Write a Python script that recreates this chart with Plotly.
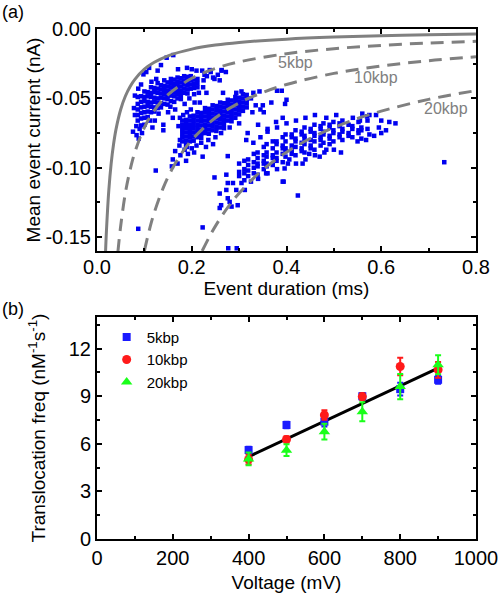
import plotly.graph_objects as go
from plotly.subplots import make_subplots

# ---------------- Panel (a): event scatter (duration ms, mean current nA) ----------------
# dense cores, read column by column (duration -> currents in that column)
dur_5kbp_core = [0.086, 0.093, 0.100, 0.107, 0.114, 0.121, 0.128, 0.135, 0.142, 0.149,
                 0.156, 0.163, 0.170, 0.177, 0.184, 0.191, 0.198, 0.205, 0.212]
cur_5kbp_core = [
    [-0.049, -0.054, -0.058, -0.062, -0.066],
    [-0.0485, -0.0525, -0.0565, -0.0605, -0.0645, -0.0695],
    [-0.045, -0.049, -0.052, -0.056, -0.060, -0.064],
    [-0.0455, -0.0485, -0.0525, -0.0555, -0.0595, -0.0635],
    [-0.042, -0.046, -0.049, -0.053, -0.056, -0.060],
    [-0.0425, -0.0455, -0.0495, -0.0525, -0.0565, -0.0595],
    [-0.039, -0.043, -0.046, -0.050, -0.053, -0.057],
    [-0.0405, -0.0435, -0.0465, -0.0495, -0.0535, -0.0565],
    [-0.037, -0.041, -0.044, -0.047, -0.050, -0.054],
    [-0.0385, -0.0415, -0.0445, -0.0475, -0.0505, -0.0545],
    [-0.036, -0.039, -0.042, -0.045, -0.048, -0.052],
    [-0.0365, -0.0395, -0.0425, -0.0455, -0.0485, -0.0525],
    [-0.035, -0.038, -0.041, -0.044, -0.047, -0.050],
    [-0.0355, -0.0385, -0.0415, -0.0445, -0.0475, -0.0505],
    [-0.034, -0.037, -0.040, -0.043, -0.046],
    [-0.0345, -0.0375, -0.0405, -0.0435, -0.0465],
    [-0.034, -0.037, -0.040, -0.043],
    [-0.0365, -0.0395, -0.0425],
    [-0.036, -0.039, -0.042],
]
events_5kbp_sparse = [
    (0.147, -0.0207), (0.161, -0.0188), (0.171, -0.029), (0.110, -0.028), (0.098, -0.0327),
    (0.104, -0.031), (0.080, -0.048), (0.076, -0.074), (0.0835, -0.0765), (0.140, -0.069),
    (0.140, -0.073), (0.175, -0.064), (0.083, -0.070), (0.090, -0.072), (0.095, -0.075),
    (0.088, -0.079), (0.122, -0.066), (0.130, -0.061), (0.150, -0.060), (0.165, -0.058),
    (0.185, -0.054), (0.195, -0.050), (0.205, -0.047), (0.215, -0.046), (0.225, -0.037),
    (0.232, -0.034), (0.240, -0.031), (0.248, -0.036), (0.255, -0.033), (0.263, -0.030),
    (0.272, -0.031), (0.222, -0.030), (0.210, -0.030), (0.200, -0.029), (0.190, -0.028),
    (0.125, -0.036), (0.115, -0.038), (0.093, -0.040), (0.087, -0.043), (0.078, -0.057),
    (0.080, -0.062), (0.100, -0.069), (0.112, -0.066), (0.117, -0.071), (0.155, -0.056),
    (0.160, -0.064), (0.135, -0.026), (0.128, -0.030), (0.227, -0.033), (0.238, -0.0296),
    (0.245, -0.035), (0.263, -0.0296), (0.259, -0.037),
]

dur_10kbp_core = [0.180, 0.188, 0.196, 0.204, 0.212, 0.220, 0.228, 0.236, 0.244, 0.252,
                  0.260, 0.268, 0.276, 0.284, 0.292, 0.300, 0.308, 0.316]
cur_10kbp_core = [
    [-0.066, -0.069, -0.072, -0.075, -0.078, -0.081],
    [-0.0655, -0.0685, -0.0715, -0.0745, -0.0775, -0.0805, -0.0835],
    [-0.063, -0.066, -0.069, -0.072, -0.075, -0.078, -0.081],
    [-0.0625, -0.0655, -0.0685, -0.0715, -0.0745, -0.0775, -0.0805],
    [-0.060, -0.063, -0.066, -0.069, -0.072, -0.075, -0.078],
    [-0.0605, -0.0635, -0.0665, -0.0695, -0.0725, -0.0755, -0.0785],
    [-0.057, -0.060, -0.063, -0.066, -0.069, -0.072, -0.075],
    [-0.0575, -0.0605, -0.0635, -0.0665, -0.0695, -0.0725, -0.0755],
    [-0.055, -0.058, -0.061, -0.064, -0.067, -0.070, -0.073],
    [-0.0555, -0.0585, -0.0615, -0.0645, -0.0675, -0.0705, -0.0735],
    [-0.053, -0.056, -0.059, -0.062, -0.065, -0.068, -0.071],
    [-0.0535, -0.0565, -0.0595, -0.0625, -0.0655, -0.0685, -0.0715],
    [-0.051, -0.054, -0.057, -0.060, -0.063, -0.066],
    [-0.0515, -0.0545, -0.0575, -0.0605, -0.0635, -0.0665],
    [-0.049, -0.052, -0.055, -0.058, -0.061, -0.064],
    [-0.0495, -0.0525, -0.0555, -0.0585, -0.0615],
    [-0.047, -0.050, -0.053, -0.056, -0.059],
    [-0.0475, -0.0505, -0.0535, -0.0565],
]
events_10kbp_sparse = [
    (0.172, -0.070), (0.174, -0.084), (0.165, -0.088), (0.160, -0.094), (0.170, -0.097),
    (0.158, -0.099), (0.176, -0.091), (0.185, -0.087), (0.192, -0.090), (0.200, -0.086),
    (0.210, -0.084), (0.220, -0.082), (0.235, -0.080), (0.250, -0.078), (0.262, -0.075),
    (0.280, -0.071), (0.300, -0.068), (0.315, -0.080), (0.318, -0.075), (0.340, -0.069),
    (0.360, -0.072), (0.392, -0.064), (0.378, -0.067), (0.343, -0.045), (0.380, -0.0445),
    (0.390, -0.0445), (0.400, -0.051), (0.397, -0.054), (0.368, -0.053), (0.350, -0.055),
    (0.352, -0.060), (0.345, -0.058), (0.328, -0.060), (0.335, -0.055), (0.330, -0.046),
    (0.325, -0.050), (0.224, -0.042), (0.231, -0.046), (0.266, -0.046), (0.294, -0.046),
    (0.305, -0.045), (0.206, -0.053), (0.217, -0.053), (0.198, -0.058), (0.190, -0.060),
    (0.182, -0.062), (0.175, -0.080), (0.190, -0.085), (0.205, -0.089), (0.223, -0.092),
    (0.230, -0.085), (0.245, -0.083), (0.188, -0.095), (0.124, -0.102), (0.087, -0.144),
    (0.273, -0.105), (0.277, -0.158),
]

dur_20kbp_core = [0.300, 0.311, 0.319, 0.331, 0.339, 0.352, 0.358, 0.371, 0.379, 0.392,
                  0.398, 0.411, 0.419, 0.432, 0.438, 0.451, 0.459, 0.472, 0.478, 0.491,
                  0.499, 0.512, 0.518, 0.531, 0.539, 0.552, 0.558, 0.571]
cur_20kbp_core = [
    [-0.097, -0.103, -0.106],
    [-0.095, -0.101, -0.104, -0.109],
    [-0.094, -0.098, -0.102, -0.106],
    [-0.090, -0.096, -0.100, -0.104],
    [-0.089, -0.093, -0.097, -0.099, -0.105],
    [-0.085, -0.091, -0.095, -0.097, -0.101],
    [-0.083, -0.089, -0.092, -0.097, -0.099],
    [-0.081, -0.086, -0.091, -0.093, -0.098],
    [-0.081, -0.083, -0.089, -0.093, -0.095],
    [-0.078, -0.084, -0.086, -0.090, -0.096],
    [-0.076, -0.081, -0.086, -0.088, -0.092],
    [-0.076, -0.078, -0.084, -0.087, -0.090],
    [-0.073, -0.079, -0.081, -0.085, -0.091],
    [-0.074, -0.076, -0.082, -0.086, -0.088],
    [-0.071, -0.077, -0.079, -0.083, -0.089],
    [-0.072, -0.074, -0.080, -0.084, -0.086],
    [-0.069, -0.075, -0.077, -0.081, -0.087],
    [-0.070, -0.072, -0.078, -0.080, -0.084],
    [-0.068, -0.074, -0.076, -0.082],
    [-0.069, -0.071, -0.077, -0.079, -0.083],
    [-0.067, -0.073, -0.075, -0.081],
    [-0.068, -0.070, -0.076, -0.078],
    [-0.066, -0.072, -0.074, -0.080],
    [-0.069, -0.075, -0.077],
    [-0.070, -0.072, -0.078],
    [-0.067, -0.073, -0.075],
    [-0.071, -0.073, -0.079],
    [-0.066, -0.072],
]
events_20kbp_sparse = [
    (0.630, -0.068), (0.617, -0.067), (0.600, -0.075), (0.585, -0.077), (0.568, -0.080),
    (0.589, -0.062), (0.570, -0.063), (0.515, -0.089), (0.484, -0.064), (0.733, -0.096),
    (0.424, -0.120), (0.394, -0.110), (0.540, -0.064), (0.555, -0.066), (0.505, -0.062),
    (0.460, -0.062), (0.440, -0.064), (0.420, -0.066), (0.400, -0.068), (0.380, -0.071),
    (0.360, -0.074), (0.345, -0.078), (0.330, -0.082), (0.440, -0.094), (0.460, -0.091),
    (0.480, -0.089), (0.500, -0.087), (0.420, -0.097), (0.380, -0.101), (0.360, -0.104),
    (0.340, -0.108), (0.325, -0.110), (0.550, -0.081), (0.575, -0.076), (0.595, -0.071),
    (0.610, -0.073), (0.600, -0.066), (0.560, -0.061), (0.575, -0.062), (0.259, -0.1186),
    (0.273, -0.116), (0.276, -0.122), (0.280, -0.1246), (0.259, -0.129), (0.262, -0.127),
    (0.284, -0.128), (0.297, -0.127), (0.287, -0.111), (0.276, -0.111), (0.248, -0.107),
    (0.276, -0.0916), (0.223, -0.143), (0.295, -0.158), (0.294, -0.116), (0.312, -0.116),
    (0.305, -0.111), (0.392, -0.110), (0.357, -0.104), (0.396, -0.1005), (0.403, -0.097),
    (0.406, -0.094), (0.434, -0.097), (0.448, -0.090), (0.470, -0.092), (0.484, -0.087),
]

# constant-charge guide curves
curve_solid_dur = [0.018, 0.02, 0.025, 0.03, 0.035, 0.04, 0.05, 0.06, 0.07, 0.08, 0.1, 0.12,
                   0.15, 0.2, 0.25, 0.3, 0.4, 0.5, 0.6, 0.7, 0.8]
curve_solid_cur = [-0.161, -0.145, -0.116, -0.0967, -0.0829, -0.0725, -0.058, -0.0483, -0.0414,
                   -0.0363, -0.029, -0.0242, -0.0193, -0.0145, -0.0116, -0.0097, -0.0073,
                   -0.0058, -0.0048, -0.0041, -0.0036]
curve_5kbp_dur = [0.044, 0.05, 0.06, 0.07, 0.08, 0.1, 0.12, 0.15, 0.2, 0.25, 0.3, 0.4, 0.5, 0.6, 0.7, 0.8]
curve_5kbp_cur = [-0.161, -0.142, -0.118, -0.1014, -0.0888, -0.071, -0.0592, -0.0473, -0.0355,
                  -0.0284, -0.0237, -0.0178, -0.0142, -0.0118, -0.0101, -0.0089]
curve_10kbp_dur = [0.1, 0.11, 0.12, 0.14, 0.16, 0.18, 0.2, 0.25, 0.3, 0.35, 0.4, 0.5, 0.6, 0.7, 0.8]
curve_10kbp_cur = [-0.16, -0.1455, -0.1333, -0.1143, -0.1, -0.0889, -0.08, -0.064, -0.0533,
                   -0.0457, -0.04, -0.032, -0.0267, -0.0229, -0.02]
curve_20kbp_dur = [0.222, 0.24, 0.26, 0.28, 0.3, 0.35, 0.4, 0.45, 0.5, 0.55, 0.6, 0.7, 0.8]
curve_20kbp_cur = [-0.16, -0.148, -0.1365, -0.1268, -0.1183, -0.1014, -0.0888, -0.0789, -0.071,
                   -0.0645, -0.0592, -0.0507, -0.0444]
curve_labels = ["5kbp", "10kbp", "20kbp"]

# ---------------- Panel (b): translocation frequency ----------------
voltage = [400, 500, 600, 700, 800, 900]
freq_5kbp = [5.61, 7.19, 7.40, 9.00, 9.45, 10.04]
err_5kbp = [0.20, 0.20, 0.30, 0.20, 0.40, 0.25]
freq_10kbp = [5.02, 6.28, 7.82, 8.98, 10.88, 10.67]
err_10kbp = [0.30, 0.20, 0.30, 0.20, 0.55, 0.50]
freq_20kbp = [5.05, 5.60, 6.77, 8.03, 9.61, 10.99]
err_20kbp = [0.40, 0.37, 0.50, 0.60, 0.80, 0.60]
fit_voltage = [400, 900]
fit_freq = [5.19, 10.77]


def expand(durs, cols, sparse):
    xs, ys = [], []
    for t, col in zip(durs, cols):
        for c in col:
            xs.append(t)
            ys.append(c)
    for t, c in sparse:
        xs.append(t)
        ys.append(c)
    return xs, ys


FONT = "Liberation Sans, Arial, sans-serif"
BLUE = "#0000f0"
GRAY = "#808080"

fig = make_subplots(rows=2, cols=1, vertical_spacing=0.1294)

all_x, all_y = [], []
for d, c, s in [(dur_5kbp_core, cur_5kbp_core, events_5kbp_sparse),
                (dur_10kbp_core, cur_10kbp_core, events_10kbp_sparse),
                (dur_20kbp_core, cur_20kbp_core, events_20kbp_sparse)]:
    xs, ys = expand(d, c, s)
    all_x += xs
    all_y += ys

fig.add_trace(go.Scatter(x=all_x, y=all_y, mode="markers", showlegend=False,
                         marker=dict(symbol="square", size=4.5, color=BLUE, line=dict(width=0))),
              row=1, col=1)

fig.add_trace(go.Scatter(x=curve_solid_dur, y=curve_solid_cur, mode="lines", showlegend=False,
                         line=dict(color=GRAY, width=3, shape="spline")), row=1, col=1)
for xd, yd in [(curve_5kbp_dur, curve_5kbp_cur), (curve_10kbp_dur, curve_10kbp_cur),
               (curve_20kbp_dur, curve_20kbp_cur)]:
    fig.add_trace(go.Scatter(x=xd, y=yd, mode="lines", showlegend=False,
                             line=dict(color=GRAY, width=3, dash="13px,8px", shape="spline")),
                  row=1, col=1)

# panel b
fig.add_trace(go.Scatter(x=fit_voltage, y=fit_freq, mode="lines", showlegend=False,
                         line=dict(color="black", width=3)), row=2, col=1)
series = [("5kbp", freq_5kbp, err_5kbp, "#1a1aff", "square", 8),
          ("10kbp", freq_10kbp, err_10kbp, "#ff1a1a", "circle", 9),
          ("20kbp", freq_20kbp, err_20kbp, "#1aff1a", "triangle-up", 10)]
for name, f, e, col, sym, sz in series:
    fig.add_trace(go.Scatter(x=voltage, y=f, mode="markers", name=name,
                             marker=dict(symbol=sym, size=sz, color=col, line=dict(width=0)),
                             error_y=dict(type="data", array=e, color=col, thickness=2, width=3)),
                  row=2, col=1)

tickfont = dict(family=FONT, size=20, color="black")
titlefont = dict(family=FONT, size=19, color="black")
common = dict(showline=True, linecolor="black", linewidth=2, mirror="ticks", ticks="inside",
              ticklen=5, tickwidth=1.5, tickcolor="black", showgrid=False, zeroline=False,
              tickfont=tickfont, automargin=False, ticklabeloverflow="allow")

fig.update_xaxes(range=[0, 0.8], tickmode="array", tickvals=[0, 0.2, 0.4, 0.6, 0.8],
                 ticktext=["0.0", "0.2", "0.4", "0.6", "0.8"], ticklabelstandoff=-3,
                 minor=dict(tickmode="linear", tick0=0, dtick=0.1, ticks="inside", ticklen=3,
                            tickwidth=1.5, tickcolor="black"),
                 title=dict(text="Event duration (ms)", font=titlefont, standoff=0),
                 row=1, col=1, **common)
fig.update_yaxes(range=[-0.16, 0], tickmode="array", tickvals=[0, -0.05, -0.10, -0.15],
                 ticktext=["0.00", "-0.05", "-0.10", "-0.15"],
                 minor=dict(tickmode="linear", tick0=0, dtick=0.025, ticks="inside", ticklen=3,
                            tickwidth=1.5, tickcolor="black"),
                 title=dict(text="Mean event current (nA)", font=titlefont, standoff=0),
                 row=1, col=1, **common)
fig.update_xaxes(range=[0, 1000], tickmode="linear", tick0=0, dtick=200,
                 minor=dict(tickmode="linear", tick0=0, dtick=100, ticks="inside", ticklen=3,
                            tickwidth=1.5, tickcolor="black"),
                 title=dict(text="Voltage (mV)", font=titlefont, standoff=8),
                 row=2, col=1, **common)
fig.update_yaxes(range=[0, 14], tickmode="linear", tick0=0, dtick=3,
                 minor=dict(tickmode="linear", tick0=0, dtick=1.5, ticks="inside", ticklen=3,
                            tickwidth=1.5, tickcolor="black"),
                 title=dict(text="Translocation freq (nM<sup>-1</sup>s<sup>-1</sup>)",
                            font=titlefont, standoff=18),
                 row=2, col=1, **common)

annotations = [
    dict(x=0.419, y=-0.0245, xref="x", yref="y", text=curve_labels[0]),
    dict(x=0.589, y=-0.0346, xref="x", yref="y", text=curve_labels[1]),
    dict(x=0.737, y=-0.057, xref="x", yref="y", text=curve_labels[2]),
]
for a in annotations:
    a.update(showarrow=False, font=dict(family=FONT, size=16, color=GRAY))
annotations += [
    dict(x=-0.256, y=1.057, xref="paper", yref="paper", text="(a)", showarrow=False,
         xanchor="left", yanchor="top", font=dict(family=FONT, size=18, color="black")),
    dict(x=-0.256, y=0.4745, xref="paper", yref="paper", text="(b)", showarrow=False,
         xanchor="left", yanchor="top", font=dict(family=FONT, size=18, color="black")),
]

fig.update_layout(
    width=498, height=600,
    margin=dict(l=97, r=22, t=29, b=61, autoexpand=False),
    paper_bgcolor="white", plot_bgcolor="white",
    font=dict(family=FONT, color="black"),
    annotations=annotations,
    legend=dict(x=0.0255, y=0.428, xanchor="left", yanchor="top",
                bgcolor="rgba(0,0,0,0)", font=dict(family=FONT, size=15, color="black"),
                itemwidth=30, tracegroupgap=0),
)

fig.write_html("out.html", config={"displayModeBar": False},
               post_script="document.body.style.margin='0px';document.body.style.padding='0px';")
